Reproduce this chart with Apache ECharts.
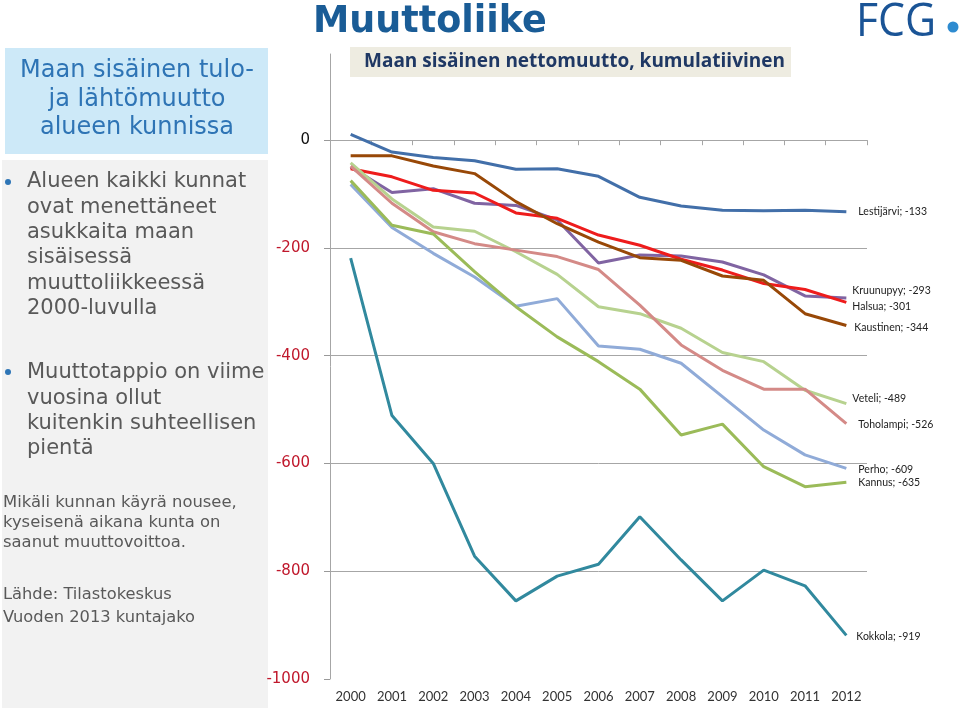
<!DOCTYPE html>
<html>
<head>
<meta charset="utf-8">
<script src="https://cdn.jsdelivr.net/npm/echarts@6/dist/echarts.min.js"></script>
<style>
html,body{margin:0;padding:0;background:#fff;}
#chart{width:960px;height:708px;}
</style>
</head>
<body>
<div id="chart"></div>
<script>
// ---- data ----
const years = ['2000','2001','2002','2003','2004','2005','2006','2007','2008','2009','2010','2011','2012'];
const yTicks = [-1000, -800, -600, -400, -200, 0];

const lestijarvi = [11, -22, -32, -38, -54, -53, -67, -106, -122, -130, -131, -130, -133];
const kruunupyy  = [-50, -97, -90, -117, -121, -148, -228, -213, -215, -226, -250, -289, -293];
const halsua     = [-53, -68, -93, -98, -135, -145, -176, -195, -221, -241, -266, -277, -301];
const kaustinen  = [-29, -29, -48, -62, -114, -155, -189, -218, -223, -252, -260, -322, -344];
const veteli     = [-42, -109, -161, -169, -207, -249, -309, -322, -349, -394, -411, -464, -489];
const toholampi  = [-48, -117, -170, -192, -204, -216, -240, -306, -380, -427, -462, -462, -526];
const perho      = [-82, -162, -210, -254, -308, -294, -382, -388, -414, -476, -538, -584, -609];
const kannus     = [-75, -158, -174, -244, -309, -365, -411, -462, -547, -527, -606, -643, -635];
const kokkola    = [-219, -511, -600, -772, -855, -809, -787, -699, -779, -855, -798, -827, -919];

const seriesNames = ['Lestijärvi','Kruunupyy','Halsua','Kaustinen','Veteli','Toholampi','Perho','Kannus','Kokkola'];
const seriesData  = [lestijarvi, kruunupyy, halsua, kaustinen, veteli, toholampi, perho, kannus, kokkola];

// ---- styles ----
const colors  = ['#426fa9','#8064a2','#ee1c1c','#984807','#b7d28f','#d48a87','#90abd8','#9bbb59','#31899e'];
const labelOffsets = [[6,0],[0,-7],[0,4],[2,2],[0,-5],[6,1],[6,1],[6,0],[4,1]];

const chart = echarts.init(document.getElementById('chart'), null, {renderer:'canvas'});

const series = seriesNames.map((n, i) => ({
  name: n,
  type: 'line',
  data: seriesData[i],
  symbol: 'none',
  smooth: false,
  lineStyle: {width: 3, color: colors[i]},
  itemStyle: {color: colors[i]},
  emphasis: {disabled: true},
  endLabel: {
    show: true,
    formatter: '{a}; {c}',
    distance: 6,
    offset: labelOffsets[i],
    fontFamily: 'Lato',
    fontSize: 10.5,
    color: '#222'
  }
}));

const panelFont = 'DejaVu Sans';

chart.setOption({
  animation: false,
  backgroundColor: '#fff',
  grid: {left: 330, right: 93, top: 54, bottom: 29, containLabel: false},
  xAxis: {
    type: 'category',
    data: years,
    boundaryGap: true,
    axisLine: {lineStyle: {color: '#a6a6a6', width: 1}},
    axisTick: {show: true, length: 5, lineStyle: {color: '#a6a6a6'}},
    axisLabel: {color: '#333', fontFamily: 'Lato', fontSize: 13, margin: 11}
  },
  yAxis: {
    type: 'value',
    min: -1000,
    max: 160,
    interval: 200,
    axisLine: {show: true, lineStyle: {color: '#a6a6a6', width: 1}},
    axisTick: {show: true, inside: false, length: 6, lineStyle: {color: '#999', width: 1}},
    axisLabel: {
      showMaxLabel: false,
      showMinLabel: true,
      fontFamily: 'DejaVu Sans',
      fontSize: 15,
      margin: 20,
      formatter: function (v) { return Number(v) > 0 ? '' : String(v); },
      color: function (v) { return Number(v) === 0 ? '#111' : '#c0182c'; }
    },
    splitLine: {show: true, showMaxLine: false, showMinLine: false, lineStyle: {color: '#a6a6a6', width: 1}}
  },
  series: series,
  graphic: [
    // title
    {type: 'text', left: 313, top: 4, style: {text: 'Muuttoliike', font: 'bold 36.5px "DejaVu Sans"', fill: '#1a5c96'}},
    // logo
    {type: 'text', x: 856, y: 0, scaleX: 0.93, style: {x: 0, y: 0, text: 'FCG', font: '46px "Open Sans"', fill: '#1a5496'}},
    {type: 'circle', shape: {cx: 953, cy: 27, r: 5.5}, style: {fill: '#2e8bd0'}},
    // chart subtitle box
    {type: 'rect', shape: {x: 350, y: 47, width: 441, height: 30}, style: {fill: '#eeece1'}},
    {type: 'text', left: 364, top: 52, style: {text: 'Maan sisäinen nettomuutto, kumulatiivinen', font: 'bold 19px "Open Sans"', fill: '#1f3864'}},
    // left panel
    {type: 'rect', shape: {x: 5, y: 48, width: 263, height: 106}, style: {fill: '#cde9f8'}},
    {type: 'text', style: {x: 137, y: 57, text: 'Maan sisäinen tulo-\nja lähtömuutto\nalueen kunnissa', font: '24px "' + panelFont + '"', fill: '#2e74b5', align: 'center', lineHeight: 28.5}},
    {type: 'rect', shape: {x: 2, y: 160, width: 266, height: 548}, style: {fill: '#f2f2f2'}},
    {type: 'circle', shape: {cx: 8, cy: 182, r: 3}, style: {fill: '#2e75b6'}},
    {type: 'text', style: {x: 27, y: 169, text: 'Alueen kaikki kunnat\novat menettäneet\nasukkaita maan\nsisäisessä\nmuuttoliikkeessä\n2000-luvulla', font: '21px "' + panelFont + '"', fill: '#595959', lineHeight: 25.4}},
    {type: 'circle', shape: {cx: 8, cy: 372, r: 3}, style: {fill: '#2e75b6'}},
    {type: 'text', style: {x: 27, y: 360, text: 'Muuttotappio on viime\nvuosina ollut\nkuitenkin suhteellisen\npientä', font: '21px "' + panelFont + '"', fill: '#595959', lineHeight: 25.4}},
    {type: 'text', style: {x: 3, y: 493, text: 'Mikäli kunnan käyrä nousee,\nkyseisenä aikana kunta on\nsaanut muuttovoittoa.', font: '16.4px "' + panelFont + '"', fill: '#595959', lineHeight: 20}},
    {type: 'text', style: {x: 3, y: 587, text: 'Lähde: Tilastokeskus', font: '16.3px "' + panelFont + '"', fill: '#595959'}},
    {type: 'text', style: {x: 3, y: 610, text: 'Vuoden 2013 kuntajako', font: '16.3px "' + panelFont + '"', fill: '#595959'}}
  ]
});
</script>
</body>
</html>
